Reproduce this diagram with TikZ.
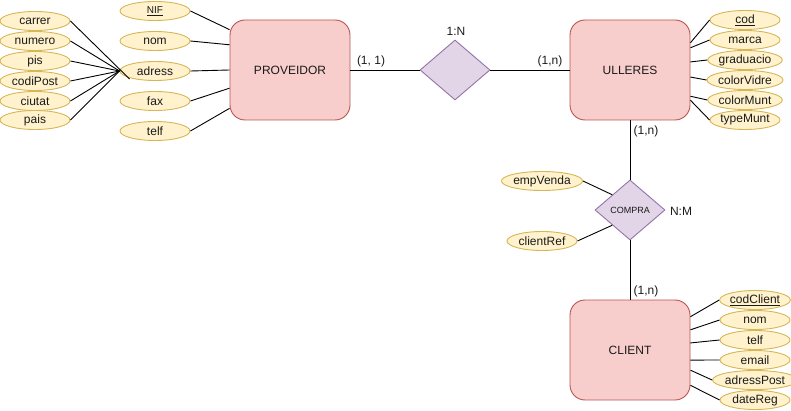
\documentclass[tikz,border=0pt]{standalone}
\usepackage{fontspec}
\setmainfont{Liberation Sans}
\usetikzlibrary{shapes.geometric,calc}
\definecolor{attrfill}{HTML}{FFF2CC}
\definecolor{attrline}{HTML}{D6B656}
\definecolor{entfill}{HTML}{F8CECC}
\definecolor{entline}{HTML}{B85450}
\definecolor{relfill}{HTML}{E1D5E7}
\definecolor{relline}{HTML}{9673A6}
\definecolor{txt}{HTML}{1A1A1A}
\begin{document}
\begin{tikzpicture}[x=1pt,y=-1pt,
  every node/.style={font=\fontsize{12}{14}\selectfont, text=txt},
  attr/.style={ellipse, draw=attrline, fill=attrfill, line width=0.9pt, minimum width=70pt, minimum height=19pt, inner sep=0pt},
  entity/.style={rectangle, rounded corners=15pt, draw=entline, fill=entfill, line width=0.9pt, minimum width=120pt, minimum height=100pt, inner sep=0pt},
  rel/.style={diamond, draw=relline, fill=relfill, line width=0.9pt, minimum width=70pt, minimum height=60pt, inner sep=0pt},
  conn/.style={draw=black, line width=0.9pt},
  lbl/.style={inner sep=0pt}
]
\useasboundingbox (0,0) rectangle (791,411);

% entities
\node[entity] (prov) at (290,70) {PROVEIDOR};
\node[entity] (ull) at (630,70) {ULLERES};
\node[entity] (cli) at (630,350) {CLIENT};

% relations
\node[rel] (r1) at (455,70) {};
\node[rel, font=\fontsize{9}{11}\selectfont] (compra) at (630,210) {COMPRA};

% PROVEIDOR attributes
\node[attr, font=\fontsize{10}{12}\selectfont] (nif) at (155,11) {\underline{NIF}};
\node[attr] (pnom) at (155,41) {nom};
\node[attr] (adress) at (155,71) {adress};
\node[attr] (fax) at (155,101) {fax};
\node[attr] (ptelf) at (155,131) {telf};

% adress sub-attributes
\node[attr] (carrer) at (35,21) {carrer};
\node[attr] (numero) at (35,41) {numero};
\node[attr] (pis) at (35,61) {pis};
\node[attr] (codipost) at (35,81) {codiPost};
\node[attr] (ciutat) at (35,101) {ciutat};
\node[attr] (pais) at (35,120) {pais};

% ULLERES attributes
\node[attr] (cod) at (745,20) {\underline{cod}};
\node[attr] (marca) at (745,40) {marca};
\node[attr] (grad) at (745,60) {graduacio};
\node[attr] (cvid) at (745,80) {colorVidre};
\node[attr] (cmunt) at (745,100) {colorMunt};
\node[attr] (tmunt) at (745,120) {typeMunt};

% CLIENT attributes
\node[attr] (codcli) at (755,300) {\underline{codClient}};
\node[attr] (cnom) at (755,320) {nom};
\node[attr] (ctelf) at (755,340) {telf};
\node[attr] (email) at (755,360) {email};
\node[attr] (apost) at (755,380) {adressPost};
\node[attr] (dreg) at (755,400) {dateReg};

% COMPRA attributes
\node[attr] (emp) at (542,181) {empVenda};
\node[attr] (cref) at (542,241) {clientRef};

% labels
\node[lbl] (l11) at (371,61) {(1, 1)};
\node[lbl] (l1N) at (456,31) {1:N};
\node[lbl] (l1n) at (550,61) {(1,n)};
\node[lbl] (l1nb) at (646,131) {(1,n)};
\node[lbl] (l1nc) at (646,291) {(1,n)};
\node[lbl] (lNM) at (681,211) {N:M};

% relationship connectors
\draw[conn] (prov.east) -- (r1.west);
\draw[conn] (r1.east) -- (ull.west);
\draw[conn] (ull.south) -- (compra.north);
\draw[conn] (compra.south) -- (cli.north);
\draw[conn] (emp.east) -- ($(compra.west)!0.5!(compra.north)$);
\draw[conn] (cref.east) -- ($(compra.west)!0.5!(compra.south)$);

% PROVEIDOR attribute connectors
\draw[conn] (nif.east) -- ($(prov.north west)!0.10!(prov.south west)$);
\draw[conn] (pnom.east) -- ($(prov.north west)!0.25!(prov.south west)$);
\draw[conn] (adress.east) -- ($(prov.north west)!0.50!(prov.south west)$);
\draw[conn] (fax.east) -- ($(prov.north west)!0.68!(prov.south west)$);
\draw[conn] (ptelf.east) -- ($(prov.north west)!0.88!(prov.south west)$);

% adress sub-attribute connectors
\coordinate (adin) at ($(adress.west)+(10,8)$);
\draw[conn] (carrer.east) -- (adin);
\draw[conn] (numero.east) -- (adress.west);
\draw[conn] (pis.east) -- (adress.west);
\draw[conn] (codipost.east) -- (adress.west);
\draw[conn] (ciutat.east) -- (adress.west);
\draw[conn] (pais.east) -- (adress.west);

% ULLERES attribute connectors
\draw[conn] (cod.west) -- ($(ull.north east)!0.23!(ull.south east)$);
\draw[conn] (marca.west) -- ($(ull.north east)!0.28!(ull.south east)$);
\draw[conn] (grad.west) -- ($(ull.north east)!0.42!(ull.south east)$);
\draw[conn] (cvid.west) -- ($(ull.north east)!0.57!(ull.south east)$);
\draw[conn] (cmunt.west) -- ($(ull.north east)!0.76!(ull.south east)$);
\draw[conn] (tmunt.west) -- ($(ull.north east)!0.80!(ull.south east)$);

% CLIENT attribute connectors
\draw[conn] (codcli.west) -- ($(cli.north east)!0.17!(cli.south east)$);
\draw[conn] (cnom.west) -- ($(cli.north east)!0.30!(cli.south east)$);
\draw[conn] (ctelf.west) -- ($(cli.north east)!0.43!(cli.south east)$);
\draw[conn] (email.west) -- ($(cli.north east)!0.60!(cli.south east)$);
\draw[conn] (apost.west) -- ($(cli.north east)!0.70!(cli.south east)$);
\draw[conn] (dreg.west) -- ($(cli.north east)!0.85!(cli.south east)$);
\end{tikzpicture}
\end{document}
